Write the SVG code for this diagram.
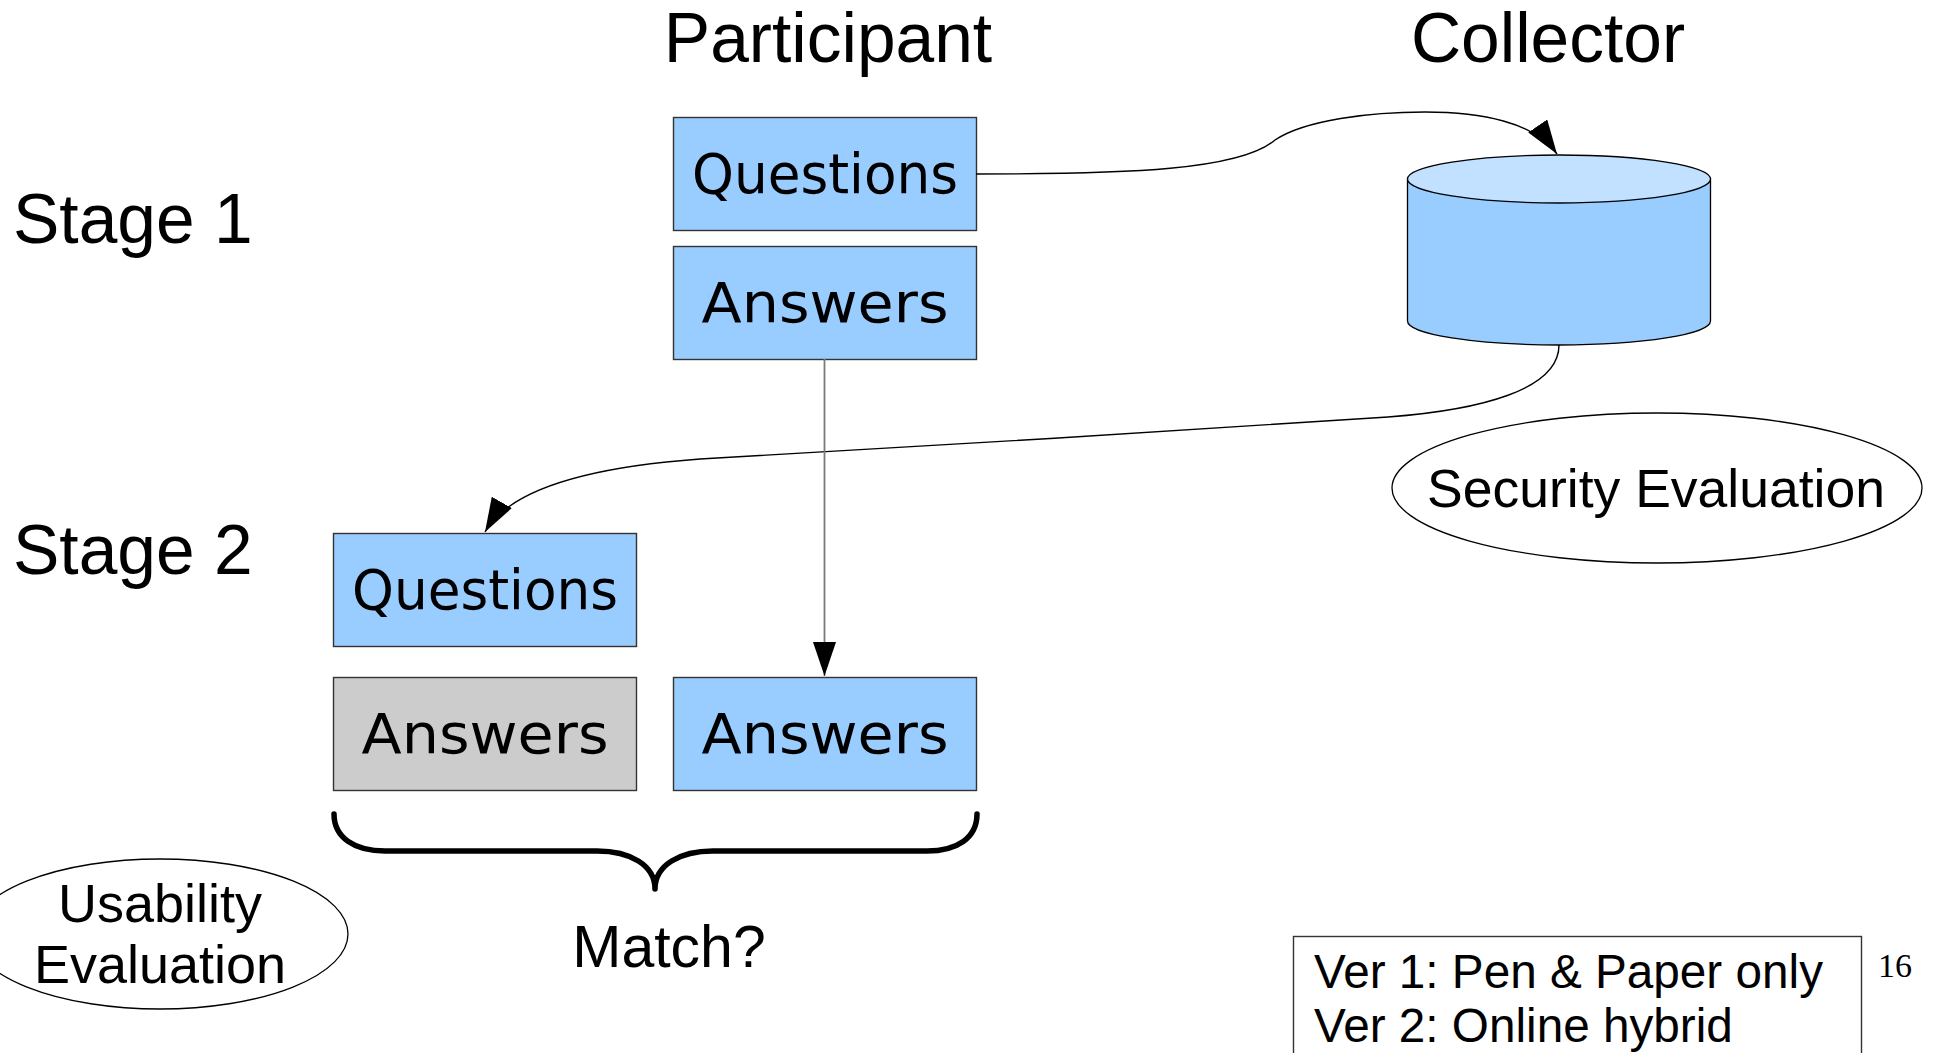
<svg xmlns="http://www.w3.org/2000/svg" width="1933" height="1053" viewBox="0 0 1933 1053">
  <style>
    .title { font-family: "Liberation Sans", Arial, sans-serif; font-size: 69.5px; fill: #000; }
    .boxtext { font-family: "DejaVu Sans", Verdana, sans-serif; font-size: 56px; fill: #000; text-anchor: middle; }
    .label { font-family: "Liberation Sans", Arial, sans-serif; fill: #000; }
    .box { fill: #99ccff; stroke: #333333; stroke-width: 1.4; }
    .box.grey { fill: #cccccc; }
    .oval { fill: #ffffff; stroke: #000000; stroke-width: 1.3; }
    .conn { fill: none; stroke: #000000; stroke-width: 1.4; }
    .conn.grey { stroke: #7a7a7a; stroke-width: 1.8; }
  </style>
  <defs>
    <marker id="arrow" markerUnits="userSpaceOnUse" viewBox="0 0 34 23" markerWidth="34" markerHeight="23" refX="34" refY="11.5" orient="auto">
      <path d="M0,0 L34,11.5 L0,23 z" fill="#000000"/>
    </marker>
  </defs>

  <rect width="1933" height="1053" fill="#ffffff"/>

  <!-- headings -->
  <g id="headings">
    <text class="title" x="828" y="62" text-anchor="middle">Participant</text>
    <text class="title" x="1548" y="62" text-anchor="middle">Collector</text>
    <text class="title" x="13" y="243">Stage 1</text>
    <text class="title" x="13" y="574">Stage 2</text>
  </g>

  <!-- stage 1 participant boxes -->
  <g id="s1-questions">
    <rect class="box" x="673.5" y="117.5" width="303" height="113"/>
    <text class="boxtext" x="825" y="193" textLength="266" lengthAdjust="spacingAndGlyphs">Questions</text>
  </g>
  <g id="s1-answers">
    <rect class="box" x="673.5" y="246.5" width="303" height="113"/>
    <text class="boxtext" x="825" y="322" textLength="247" lengthAdjust="spacingAndGlyphs">Answers</text>
  </g>

  <!-- collector database -->
  <g id="collector-db">
    <path d="M1407.5,179 L1407.5,321 A151.5,24 0 0 0 1710.5,321 L1710.5,179 Z" fill="#99ccff" stroke="#000000" stroke-width="1.3"/>
    <ellipse cx="1559" cy="179" rx="151.5" ry="24" fill="#c2e0ff" stroke="#000000" stroke-width="1.3"/>
  </g>

  <!-- security evaluation -->
  <g id="security-eval">
    <ellipse class="oval" cx="1657" cy="488" rx="265" ry="75"/>
    <text class="label" x="1656" y="507" font-size="53.5" text-anchor="middle">Security Evaluation</text>
  </g>

  <!-- stage 2 boxes -->
  <g id="s2-questions">
    <rect class="box" x="333.5" y="533.5" width="303" height="113"/>
    <text class="boxtext" x="485" y="609" textLength="266" lengthAdjust="spacingAndGlyphs">Questions</text>
  </g>
  <g id="s2-answers-collector">
    <rect class="box grey" x="333.5" y="677.5" width="303" height="113"/>
    <text class="boxtext" x="485" y="753" textLength="247" lengthAdjust="spacingAndGlyphs">Answers</text>
  </g>
  <g id="s2-answers-participant">
    <rect class="box" x="673.5" y="677.5" width="303" height="113"/>
    <text class="boxtext" x="825" y="753" textLength="247" lengthAdjust="spacingAndGlyphs">Answers</text>
  </g>

  <!-- brace and match label -->
  <g id="match">
    <path d="M334,814 C334,838 355,851 385,851 L597,851 C630,851 655,865 655,889 C655,865 680,851 713,851 L927,851 C957,851 977,838 977,814" fill="none" stroke="#000000" stroke-width="5.5" stroke-linecap="round" stroke-linejoin="round"/>
    <text class="label" x="669" y="967" font-size="59" text-anchor="middle">Match?</text>
  </g>

  <!-- usability evaluation -->
  <g id="usability-eval">
    <ellipse class="oval" cx="160" cy="934" rx="188" ry="75"/>
    <text class="label" x="160" y="922" font-size="54" text-anchor="middle">Usability</text>
    <text class="label" x="160" y="983" font-size="54" text-anchor="middle">Evaluation</text>
  </g>

  <!-- versions note -->
  <g id="versions">
    <rect x="1293.5" y="936.5" width="568" height="140" fill="#ffffff" stroke="#333333" stroke-width="1.4"/>
    <text class="label" x="1314" y="988" font-size="47.7">Ver 1: Pen &amp; Paper only</text>
    <text class="label" x="1314" y="1042" font-size="47.7">Ver 2: Online hybrid</text>
  </g>

  <!-- slide number -->
  <text x="1878" y="977" font-family="'Liberation Serif', 'Times New Roman', serif" font-size="34" fill="#000000">16</text>

  <!-- connectors -->
  <g id="connectors">
    <path class="conn" d="M976,174 C1130,174 1240,170 1275,140 C1305,120 1370,112 1425,112 C1480,112 1535,122 1557,154" marker-end="url(#arrow)"/>
    <path class="conn" d="M1559,345 C1559,390 1480,410 1388,417 C1250,427.5 800,453 700,459 C590,467 510,488 485,532" marker-end="url(#arrow)"/>
    <path class="conn grey" d="M824.5,359 L824.5,676" marker-end="url(#arrow)"/>
  </g>
</svg>
